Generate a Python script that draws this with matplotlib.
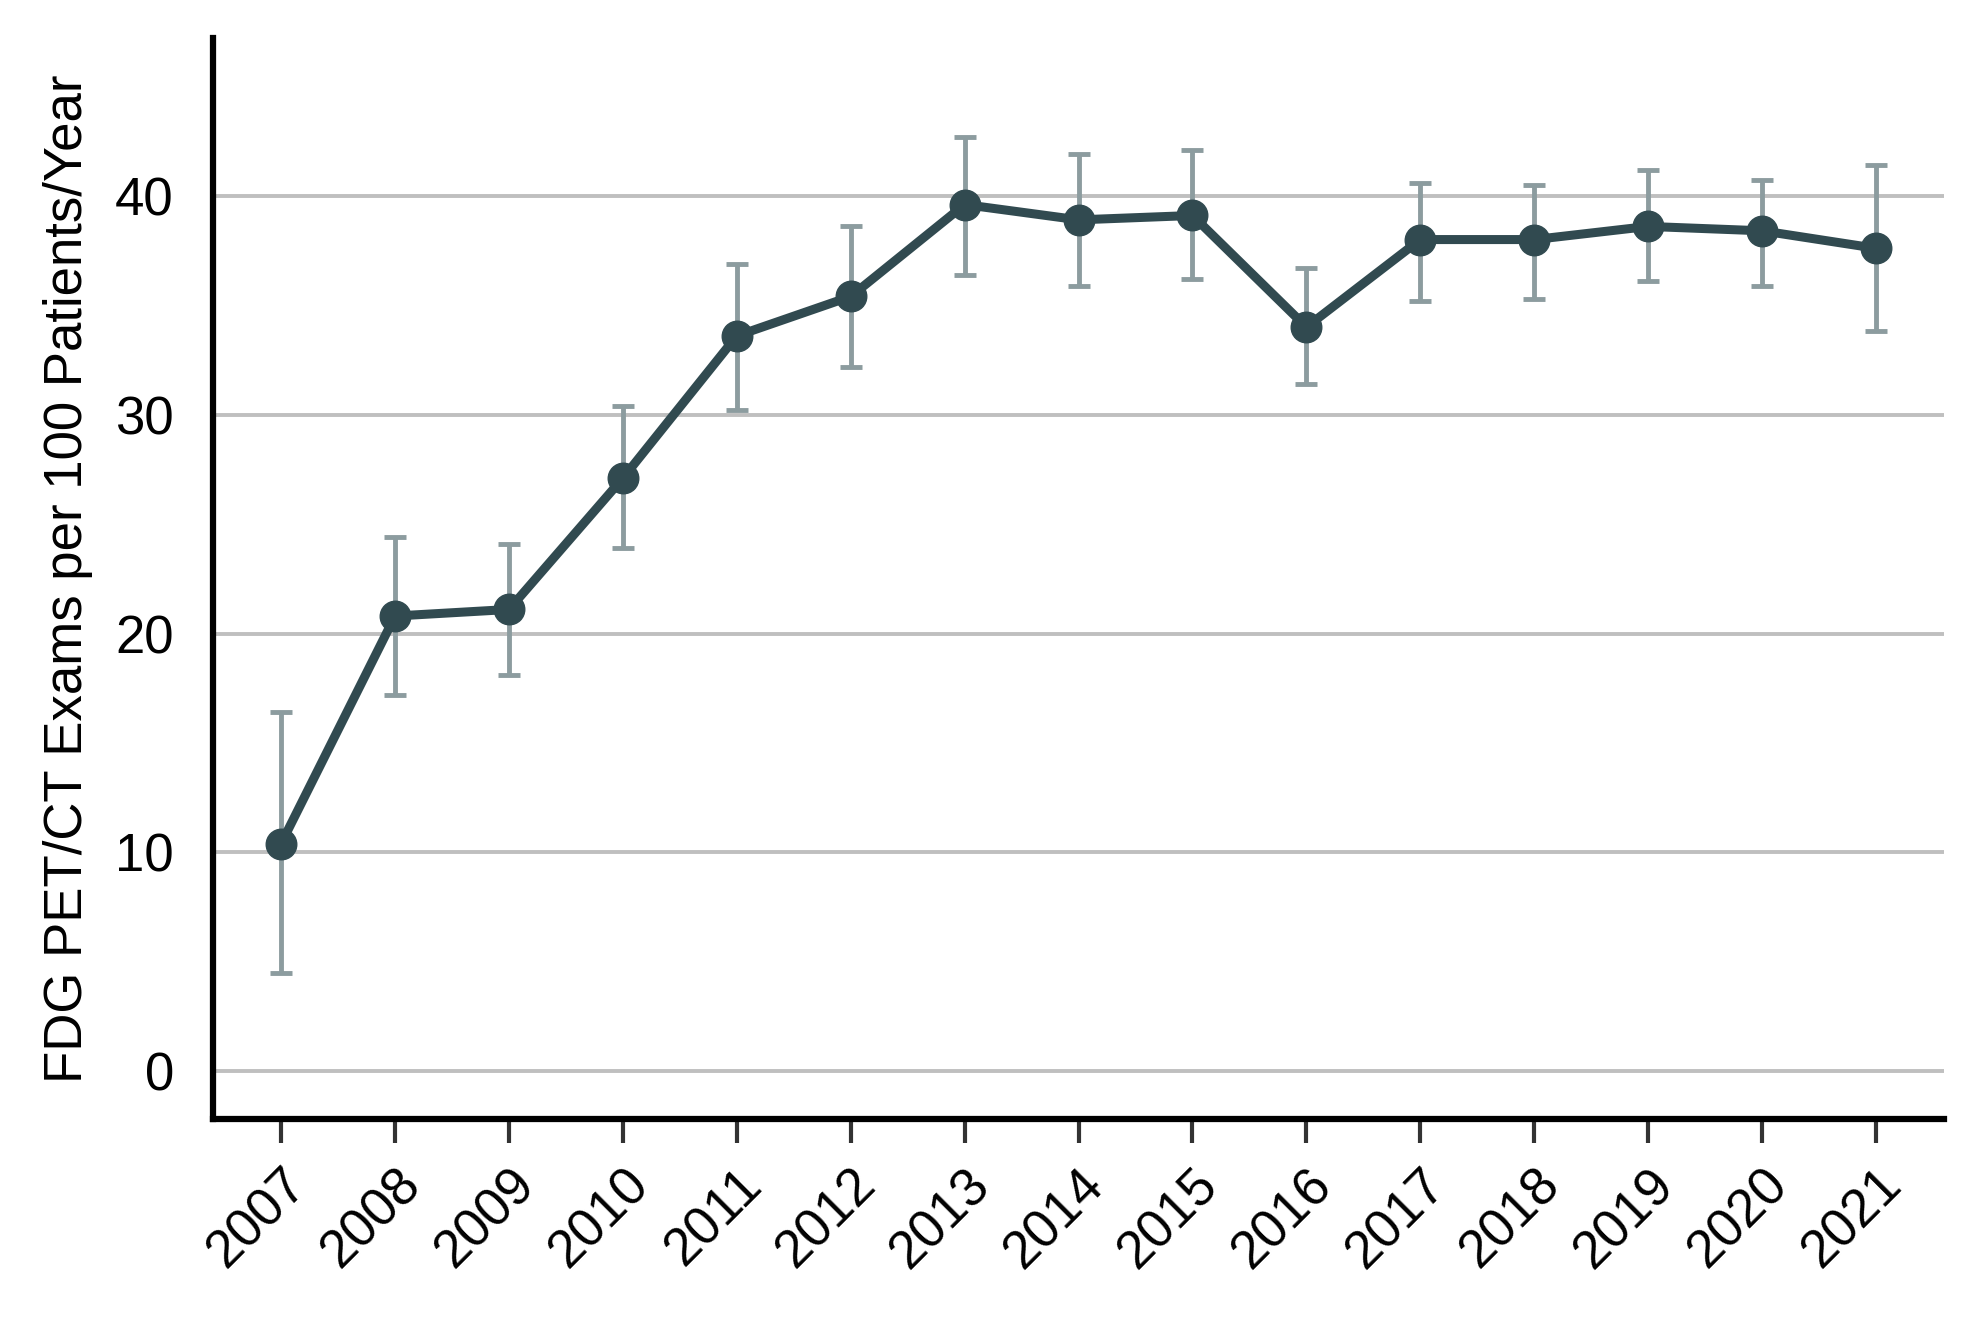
import numpy as np
import matplotlib
matplotlib.use("Agg")
import matplotlib.pyplot as plt

plt.rcParams['font.family'] = ['Liberation Sans', 'DejaVu Sans']

years = [2007, 2008, 2009, 2010, 2011, 2012, 2013, 2014, 2015, 2016, 2017, 2018, 2019, 2020, 2021]
rate = [10.4, 20.8, 21.1, 27.1, 33.6, 35.4, 39.6, 38.9, 39.1, 34.0, 38.0, 38.0, 38.6, 38.4, 37.6]
upper = [16.4, 24.4, 24.1, 30.4, 36.9, 38.6, 42.7, 41.9, 42.1, 36.7, 40.6, 40.5, 41.2, 40.7, 41.4]
lower = [4.5, 17.2, 18.1, 23.9, 30.2, 32.2, 36.4, 35.9, 36.2, 31.4, 35.2, 35.3, 36.1, 35.9, 33.8]

rate = np.array(rate)
yerr = [rate - np.array(lower), np.array(upper) - rate]

fig = plt.figure(figsize=(19.70, 13.17), dpi=100)
ax = fig.add_axes([0.108, 0.150, 0.879, 0.821])

for v in [0, 10, 20, 30, 40]:
    ax.axhline(v, color='#bfbfbf', lw=2.8, zorder=0)

ax.errorbar(years, rate, yerr=yerr, fmt='none', ecolor='#8c9c9f', elinewidth=3.5,
            capsize=8, capthick=3.5, zorder=2)
ax.plot(years, rate, color='#314a50', lw=6.5, marker='o', markersize=22, zorder=3)

ax.set_xlim(2006.4, 2021.6)
ax.set_ylim(-2.2, 47.2)
ax.set_xticks(years)
ax.set_xticklabels([str(y) for y in years], rotation=45, ha='right', rotation_mode='anchor')
ax.set_yticks([0, 10, 20, 30, 40])
ax.tick_params(axis='x', length=17, width=3, color='#333333', labelsize=38, pad=12)
ax.tick_params(axis='y', length=0, labelsize=38, pad=28)
ax.set_ylabel('FDG PET/CT Exams per 100 Patients/Year', fontsize=38, labelpad=16)

for s in ['top', 'right']:
    ax.spines[s].set_visible(False)
for s in ['left', 'bottom']:
    ax.spines[s].set_linewidth(4.5)
    ax.spines[s].set_color('black')

fig.savefig('out.png', dpi=100)
